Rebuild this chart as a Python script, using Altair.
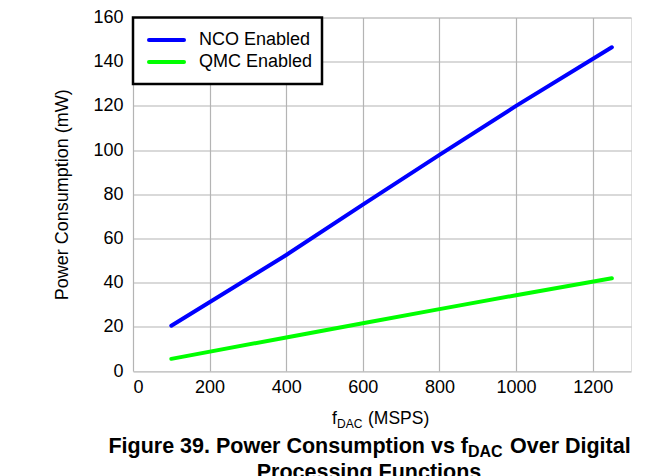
import altair as alt
import pandas as pd

# Data
fdac = [100, 400, 600, 800, 1000, 1250]
nco = [20.5, 52.5, 75.3, 97.8, 120.0, 146.5]
qmc = [5.5, 15.2, 21.6, 28.0, 34.3, 42.0]
series_names = ["NCO Enabled", "QMC Enabled"]
series_colors = ["#0000FF", "#00FF00"]
x_ticks = [0, 200, 400, 600, 800, 1000, 1200]
y_ticks = [0, 20, 40, 60, 80, 100, 120, 140, 160]

rows = []
for f, v in zip(fdac, nco):
    rows.append({"fdac": f, "power": v, "series": series_names[0]})
for f, v in zip(fdac, qmc):
    rows.append({"fdac": f, "power": v, "series": series_names[1]})
df = pd.DataFrame(rows)

FONT = "Liberation Sans"
W, H = 498, 353.5

color_scale = alt.Scale(domain=series_names, range=series_colors)

lines = alt.Chart(df).mark_line(strokeWidth=4, strokeCap="round").encode(
    x=alt.X("fdac:Q", scale=alt.Scale(domain=[0, 1300], nice=False),
            axis=alt.Axis(values=x_ticks, title=None, labelFontSize=18,
                          format="d",
                          labelPadding=7, ticks=False, domain=False,
                          gridColor="#b4b4b4", gridWidth=1.2, labelFont=FONT,
                          labelColor="black")),
    y=alt.Y("power:Q", scale=alt.Scale(domain=[0, 160], nice=False),
            axis=alt.Axis(values=y_ticks, title="Power Consumption (mW)",
                          titleFontSize=18, titleFontWeight="normal",
                          titleFont=FONT, titleColor="black",
                          titleAngle=-90, titleX=-71, titleY=H / 2,
                          titleAlign="center", titleBaseline="middle",
                          labelFontSize=18, labelPadding=10, ticks=False,
                          domain=False, gridColor="#b4b4b4", gridWidth=1.2,
                          labelFont=FONT, labelColor="black")),
    color=alt.Color("series:N", scale=color_scale, legend=None),
    detail="series:N",
)

# Legend box
leg_df = pd.DataFrame({"series": series_names})
leg_box = alt.Chart(pd.DataFrame({"a": [0]})).mark_rect(
    fill="white", stroke="black", strokeWidth=2.5
).encode(x=alt.value(0), x2=alt.value(189), y=alt.value(0), y2=alt.value(66.5))

leg_items = []
for i, name in enumerate(series_names):
    yy = 22.5 + 22 * i
    d = leg_df[leg_df.series == name]
    leg_items.append(
        alt.Chart(d).mark_rule(strokeWidth=4, strokeCap="round").encode(
            x=alt.value(16), x2=alt.value(51), y=alt.value(yy),
            color=alt.Color("series:N", scale=color_scale, legend=None))
    )
    leg_items.append(
        alt.Chart(d).mark_text(align="left", baseline="middle", fontSize=18,
                               font=FONT, color="black").encode(
            x=alt.value(66), y=alt.value(yy), text="series:N")
    )

def txt(s, x, y, size, weight="normal", align="left"):
    return alt.Chart(pd.DataFrame({"t": [s]})).mark_text(
        align=align, baseline="alphabetic", fontSize=size, font=FONT,
        fontWeight=weight, color="black"
    ).encode(x=alt.value(x), y=alt.value(y), text="t:N")

# x axis title with subscript
xt = [
    txt("f", 199, 406.5, 17.5),
    txt("DAC", 204, 410.5, 12),
    txt("(MSPS)", 235, 406.5, 17.5),
]
# Caption
cap = [
    txt("Figure 39. Power Consumption vs f", 335, 435.5, 21.5, "bold", "right"),
    txt("DAC", 335, 439, 16, "bold"),
    txt("Over Digital", 377, 435.5, 21.5, "bold"),
    txt("Processing Functions", 236, 461.5, 21.5, "bold", "center"),
]

chart = alt.layer(lines, leg_box, *leg_items, *xt, *cap).properties(
    width=W, height=H,
    autosize=alt.AutoSizeParams(type="none"),
    padding={"left": 125, "top": 9.5, "right": 30, "bottom": 106},
).configure_view(stroke="black", strokeWidth=2.5).configure(background="white")

chart.save("out.html", embed_options={"renderer": "svg", "actions": False})
